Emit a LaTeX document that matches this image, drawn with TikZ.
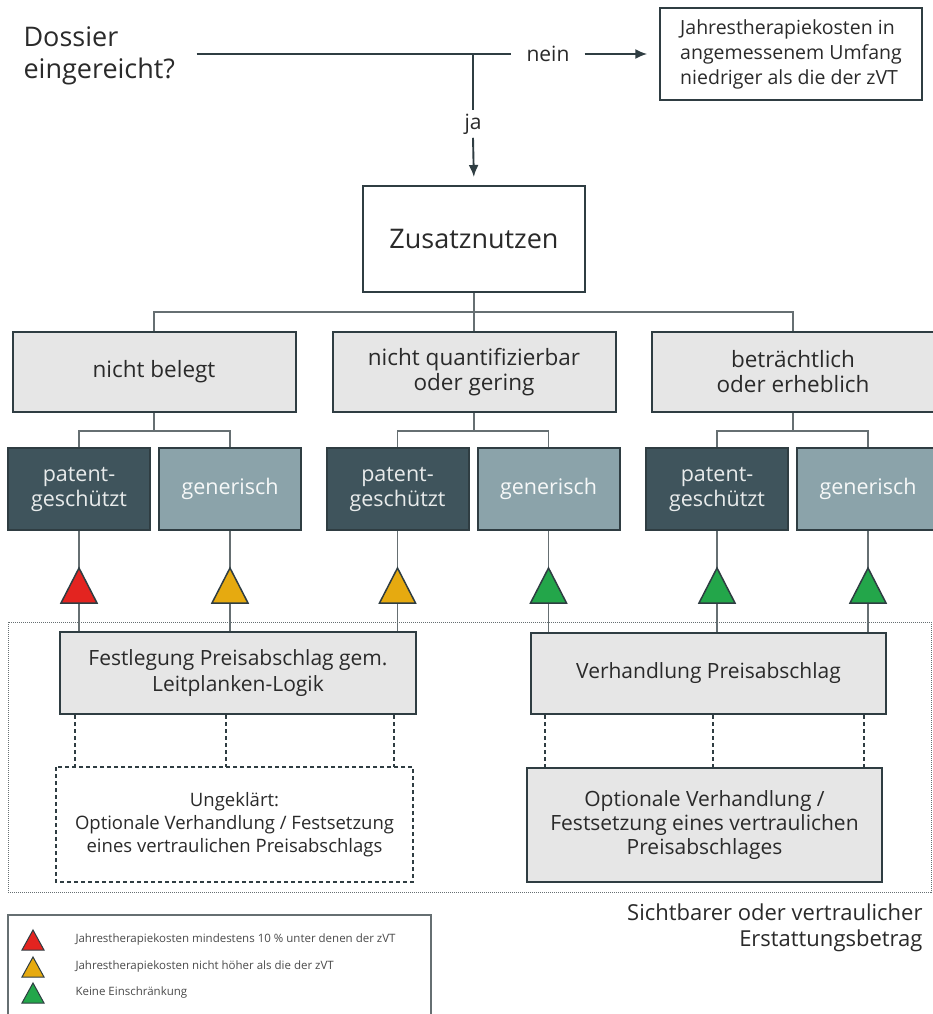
\documentclass[tikz,border=0pt]{standalone}
\usepackage{fontspec}
\setmainfont{Open Sans}
\usetikzlibrary{calc}
\usetikzlibrary{arrows.meta}
\usetikzlibrary{positioning}
\definecolor{dark}{HTML}{2F3D42}
\definecolor{patent}{HTML}{3F545C}
\definecolor{generic}{HTML}{8BA3AA}
\definecolor{boxgray}{HTML}{E6E6E6}
\definecolor{linegray}{HTML}{666F72}
\definecolor{txt}{HTML}{2A2A2A}
\definecolor{tred}{HTML}{E32420}
\definecolor{tyellow}{HTML}{E6AA10}
\definecolor{tgreen}{HTML}{23A64A}
\newcommand{\fs}[2]{\fontsize{#1}{#2}\selectfont}

\begin{document}
\begin{tikzpicture}[x=1pt, y=-1pt,
		every node/.style={text=txt},
		link/.style={draw=dark, line width=1.9pt},
		tree/.style={draw=linegray, line width=1.4pt},
		dashlink/.style={draw=dark, line width=1.2pt, dash pattern=on 4pt off 3pt},
		box/.style={draw=dark, line width=2pt, fill=boxgray, inner sep=0pt, align=center},
		catbox/.style={box, minimum width=283pt, minimum height=80pt, font=\fs{22.5}{25}},
		subbox/.style={box, minimum width=142pt, minimum height=82pt, font=\fs{21.5}{25}},
		patentbox/.style={subbox, fill=patent, text=white!88!patent},
		genbox/.style={subbox, fill=generic, text=white!92!generic},
		tri/.style={draw=dark, line width=1.5pt, line join=miter}]
	\useasboundingbox (0,0) rectangle (932,1014);
	\fill[white] (0,0) rectangle (932,1014);

	\node[anchor=west, align=left, font=\fs{27}{32}] (dossier) at (20,56) {Dossier\\eingereicht?};
	\node[draw=dark, line width=1.5pt, minimum width=262pt, minimum height=92pt, align=left, font=\fs{19.5}{25}] (kosten) at (791,54) {Jahrestherapiekosten in\\angemessenem Umfang\\niedriger als die der zVT};
	\node[font=\fs{21}{25}, inner xsep=15pt] (nein) at (548,54) {nein};
	\coordinate (split) at (473,54);
	\node[font=\fs{21}{25}] (ja) at (473,124) {ja};
	\node[box, fill=white, minimum width=222pt, minimum height=106pt, font=\fs{27}{32}] (zusatz) at (474,239) {Zusatznutzen};

	\draw[link] ([xshift=18pt]dossier.east |- nein.west) -- (nein.west);
	\draw[link, -{Latex[length=12pt, width=10pt]}, shorten >=12pt] (nein.east) -- (kosten.west);
	\draw[link] (split) -- (ja.north);
	\draw[link, -{Latex[length=12pt, width=10pt]}, shorten >=8pt] (ja.south) -- (zusatz.north);

	\node[catbox] (cata) at (154,372) {nicht belegt};
	\node[catbox] (catb) at (474,372) {nicht quantifizierbar\\oder gering};
	\node[catbox] (catc) at (793,372) {beträchtlich\\oder erheblich};
	\coordinate (hub) at (474,312);
	\draw[tree] (zusatz.south) -- (catb.north);
	\draw[tree] (cata.north) |- (hub) -| (catc.north);

	\node[patentbox] (pa) at (79,489) {patent-\\geschützt};
	\node[genbox] (ga) at (230,489) {generisch};
	\node[patentbox] (pb) at (397.5,489) {patent-\\geschützt};
	\node[genbox] (gb) at (548.5,489) {generisch};
	\node[patentbox] (pc) at (717,489) {patent-\\geschützt};
	\node[genbox] (gc) at (868,489) {generisch};
	\foreach \c/\p/\g in {cata/pa/ga, catb/pb/gb, catc/pc/gc} {
		\draw[tree] (\c.south) -- ++(0,18);
		\draw[tree] (\p.north) |- ($(\c.south)+(0,18)$) -| (\g.north);
	}

	\draw[linegray, line width=1pt, densely dotted] (8,622) rectangle (931,892);

	\node[box, minimum width=356pt, minimum height=82pt, font=\fs{21}{26}] (fest) at (238,673) {Festlegung Preisabschlag gem.\\Leitplanken-Logik};
	\node[box, minimum width=355pt, minimum height=81pt, font=\fs{21}{26}] (verh) at (708.5,673.5) {Verhandlung Preisabschlag};
	\node[box, fill=white, draw=none, minimum width=355pt, minimum height=113pt, font=\fs{18.5}{23}] (ungek) at (234.5,824.5) {Ungeklärt:\\Optionale Verhandlung / Festsetzung\\eines vertraulichen Preisabschlags};
	\draw[dashlink] (ungek.north west) rectangle (ungek.south east);
	\node[box, minimum width=355pt, minimum height=114pt, font=\fs{21}{24}] (opt) at (704.5,825) {Optionale Verhandlung /\\Festsetzung eines vertraulichen\\Preisabschlages};

	\foreach \n/\col/\low in {pa/tred/fest, ga/tyellow/fest, pb/tyellow/fest, gb/tgreen/verh, pc/tgreen/verh, gc/tgreen/verh} {
		\coordinate (t\n) at ($(\n.south)+(0,37)$);
		\coordinate (b\n) at ($(t\n)+(0,35)$);
		\draw[tree] (\n.south) -- (t\n);
		\draw[tree] (b\n) -- (b\n |- \low.north);
		\draw[tri, fill=\col] (t\n) -- ++(-18,35) -- ++(36,0) -- cycle;
	}

	\foreach \x in {75,226,394} {
		\draw[dashlink] (fest.south -| \x,0) -- (ungek.north -| \x,0);
	}
	\foreach \x in {545,713,864} {
		\draw[dashlink] (verh.south -| \x,0) -- (opt.north -| \x,0);
	}

	\node[anchor=east, align=right, font=\fs{22}{26}] (betrag) at (926,928) {Sichtbarer oder vertraulicher\\Erstattungsbetrag};

	\draw[linegray, line width=1.2pt] (8,1030) |- (431,915) -- (431,1030);
	\foreach \col/\y/\t in {tred/940/Jahrestherapiekosten mindestens 10 \% unter denen der zVT, tyellow/967/Jahrestherapiekosten nicht höher als die der zVT, tgreen/993/Keine Einschränkung} {
		\draw[tri, line width=1pt, fill=\col] (33,\y-10) -- ++(-11,20) -- ++(22,0) -- cycle;
		\node[anchor=west, font=\fs{11.5}{14}, text=txt!85] at (72,\y) {\t};
	}
\end{tikzpicture}
\end{document}
